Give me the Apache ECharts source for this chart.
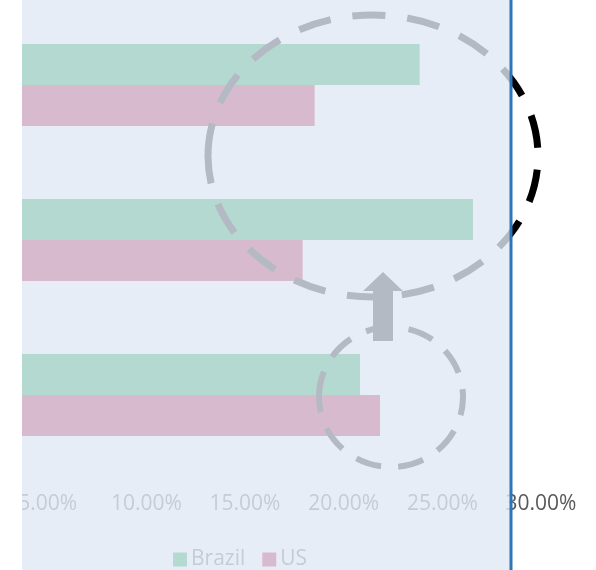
<!DOCTYPE html>
<html>
<head>
<meta charset="utf-8">
<script src="https://cdn.jsdelivr.net/npm/echarts@6/dist/echarts.min.js"></script>
<style>
html,body{margin:0;padding:0;background:#fff;}
#chart{width:596px;height:570px;}
</style>
</head>
<body>
<div id="chart"></div>
<script>
var categories = ['C', 'B', 'A'];
var brazil = [20.83, 26.55, 23.85];
var us = [21.84, 17.92, 18.53];
var tickFmt = function(v){ return v.toFixed(2) + '%'; };

var labelColor = '#595959';
var shade = 'rgba(225,232,245,0.8)';

var chart = echarts.init(document.getElementById('chart'));
var option = {
	animation: false,
	textStyle: { fontFamily: 'Open Sans' },
	grid: {
		left: -51,
		right: 55,
		top: 7.5,
		bottom: 97.5,
		containLabel: false,
		outerBoundsMode: 'none'
	},
	legend: {
		top: 544,
		left: 168,
		itemWidth: 14,
		itemHeight: 14,
		itemGap: 17,
		icon: 'rect',
		textStyle: { color: labelColor, fontSize: 21, padding: [0, 0, 0, -1] },
		data: ['Brazil', 'US']
	},
	xAxis: {
		type: 'value',
		min: 0,
		max: 30,
		interval: 5,
		axisLine: { show: false },
		axisTick: { show: false },
		splitLine: { show: false },
		axisLabel: {
			color: labelColor,
			fontSize: 21,
			margin: 21,
			formatter: tickFmt
		}
	},
	yAxis: {
		type: 'category',
		data: categories,
		axisLine: { show: false },
		axisTick: { show: false },
		axisLabel: { show: false }
	},
	series: [
		{
			name: 'Brazil',
			type: 'bar',
			data: brazil,
			barWidth: 41,
			barGap: '0%',
			itemStyle: { color: '#009a3c' }
		},
		{
			name: 'US',
			type: 'bar',
			data: us,
			barWidth: 41,
			barGap: '0%',
			itemStyle: { color: '#b40032' }
		}
	],
	graphic: [
		{
			type: 'ellipse', z: 50, silent: true,
			shape: { cx: 373, cy: 156, rx: 165, ry: 141 },
			style: { fill: 'none', stroke: '#000', lineWidth: 7, lineDash: [33, 22] }
		},
		{
			type: 'ellipse', z: 50, silent: true,
			shape: { cx: 391, cy: 397, rx: 72, ry: 70 },
			style: { fill: 'none', stroke: '#000', lineWidth: 6, lineDash: [26, 17] }
		},
		{
			//箭头
			type: 'polygon', z: 50, silent: true,
			shape: { points: [[383, 272], [403, 291], [393, 291], [393, 341], [373, 341], [373, 291], [363, 291]] },
			style: { fill: '#000' }
		},
		{
			type: 'rect', z: 100, silent: true,
			shape: { x: 22, y: 0, width: 489, height: 570 },
			style: { fill: shade }
		},
		{
			type: 'rect', z: 101, silent: true,
			shape: { x: 0, y: 0, width: 22, height: 570 },
			style: { fill: '#fff' }
		},
		{
			type: 'line', z: 102, silent: true,
			shape: { x1: 511, y1: 0, x2: 511, y2: 570 },
			style: { stroke: '#2e75b6', lineWidth: 3 }
		}
	]
};
chart.setOption(option);
</script>
</body>
</html>
